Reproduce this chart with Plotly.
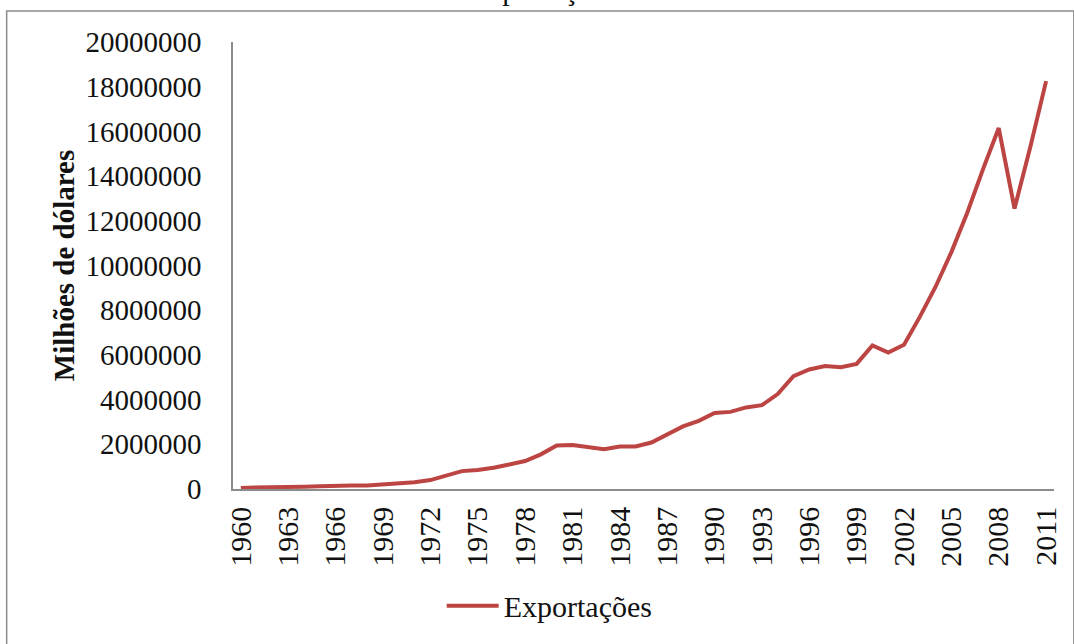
import plotly.graph_objects as go

years = list(range(1960, 2012))
exportacoes = [
    50000, 55000, 70000, 100000, 105000, 120000, 150000, 155000, 160000, 200000,
    250000, 300000, 400000, 600000, 800000, 850000, 950000, 1100000, 1250000, 1550000,
    1950000, 1970000, 1880000, 1780000, 1900000, 1900000, 2080000, 2450000, 2800000, 3050000,
    3400000, 3450000, 3650000, 3750000, 4250000, 5050000, 5350000, 5500000, 5450000, 5600000,
    6420000, 6100000, 6450000, 7700000, 9050000, 10600000, 12350000, 14300000, 16150000, 12550000,
    15300000, 18250000,
]
tick_years = list(range(1960, 2012, 3))
y_ticks = list(range(0, 20000001, 2000000))

FONT = "Liberation Serif"
W, H = 1074, 644
L, R, T, B = 233, 14, 42, 154
pw, ph = W - L - R, H - T - B

def px_to_paper_x(px):
    return (px - L) / pw

def px_to_paper_y(py):
    return (H - B - py) / ph

fig = go.Figure()
fig.add_trace(go.Scatter(
    x=years, y=exportacoes, mode="lines", name="Exportações",
    line=dict(color="#BC4543", width=4),
))

fig.update_layout(
    width=W, height=H,
    margin=dict(l=L, r=R, t=T, b=B),
    paper_bgcolor="white", plot_bgcolor="white",
    font=dict(family=FONT, size=29, color="#111"),
    showlegend=True,
    legend=dict(orientation="h", x=px_to_paper_x(552), xanchor="center",
                y=px_to_paper_y(607), yanchor="middle",
                font=dict(family=FONT, size=30, color="#111"),
                itemwidth=52, bgcolor="rgba(0,0,0,0)"),
    xaxis=dict(
        range=[1959.5, 2011.5], tickmode="array", tickvals=tick_years,
        ticktext=[str(y) for y in tick_years], tickangle=-90,
        showgrid=False, zeroline=False, showline=True, linecolor="#8c8c8c", linewidth=1.5,
        ticks="", ticklabelstandoff=4,
        tickfont=dict(family=FONT, size=30, color="#111"),
    ),
    yaxis=dict(
        range=[0, 20000000], tickmode="array", tickvals=y_ticks,
        ticktext=[str(v) for v in y_ticks],
        showgrid=False, zeroline=False, showline=True, linecolor="#8c8c8c", linewidth=1.5,
        ticks="", ticklabelstandoff=24,
        tickfont=dict(family=FONT, size=29, color="#111"),
        title=dict(text="<b>Milhões de dólares</b>", standoff=2,
                   font=dict(family=FONT, size=29, color="#111")),
    ),
    shapes=[dict(type="rect", xref="paper", yref="paper",
                 x0=px_to_paper_x(5), x1=px_to_paper_x(1080),
                 y0=px_to_paper_y(660), y1=px_to_paper_y(11),
                 line=dict(color="#8c8c8c", width=1.5), fillcolor="rgba(0,0,0,0)",
                 layer="below")],
    annotations=[dict(text="Exportações", xref="paper", yref="paper",
                      x=px_to_paper_x(545), y=px_to_paper_y(8),
                      xanchor="center", yanchor="bottom", showarrow=False,
                      font=dict(family=FONT, size=30, color="#111"))],
)

fig.write_html("out.html")
